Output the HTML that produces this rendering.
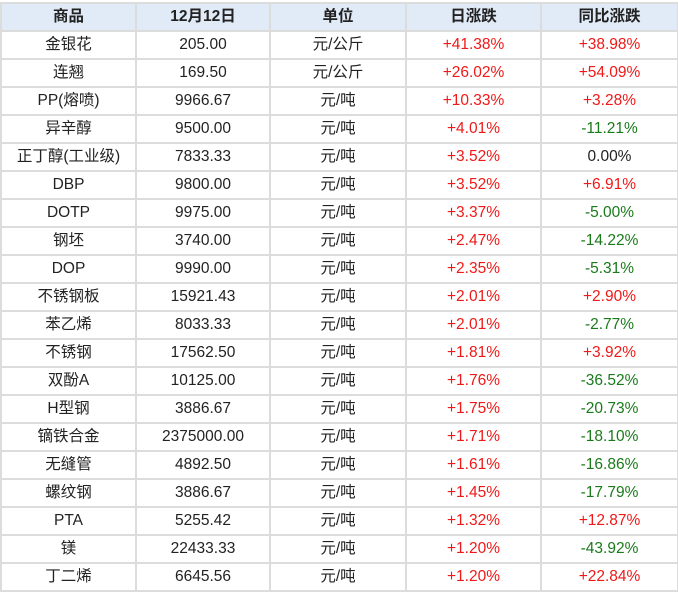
<!DOCTYPE html>
<html><head><meta charset="utf-8"><style>
html,body{margin:0;padding:0;background:#fff;width:678px;height:595px;overflow:hidden}
table{position:absolute;left:0;top:2px;border-collapse:collapse;table-layout:fixed;width:677px;font-family:"Liberation Sans","Noto Sans CJK SC",sans-serif;font-size:15.5px;color:#222}
td,th{border:2px solid #dcdcdc;height:26px;padding:0;text-align:center;line-height:26px;white-space:nowrap}
th{background:#e1eaf7;font-weight:bold;color:#222}
.r{color:#f01818}.g{color:#1a7a1a}
</style></head><body>
<table>
<colgroup><col style="width:135px"><col style="width:134px"><col style="width:136px"><col style="width:135px"><col style="width:137px"></colgroup>
<tr><th>商品</th><th>12月12日</th><th>单位</th><th>日涨跌</th><th>同比涨跌</th></tr>
<tr><td>金银花</td><td>205.00</td><td>元/公斤</td><td class="r">+41.38%</td><td class="r">+38.98%</td></tr>
<tr><td>连翘</td><td>169.50</td><td>元/公斤</td><td class="r">+26.02%</td><td class="r">+54.09%</td></tr>
<tr><td>PP(熔喷)</td><td>9966.67</td><td>元/吨</td><td class="r">+10.33%</td><td class="r">+3.28%</td></tr>
<tr><td>异辛醇</td><td>9500.00</td><td>元/吨</td><td class="r">+4.01%</td><td class="g">-11.21%</td></tr>
<tr><td>正丁醇(工业级)</td><td>7833.33</td><td>元/吨</td><td class="r">+3.52%</td><td>0.00%</td></tr>
<tr><td>DBP</td><td>9800.00</td><td>元/吨</td><td class="r">+3.52%</td><td class="r">+6.91%</td></tr>
<tr><td>DOTP</td><td>9975.00</td><td>元/吨</td><td class="r">+3.37%</td><td class="g">-5.00%</td></tr>
<tr><td>钢坯</td><td>3740.00</td><td>元/吨</td><td class="r">+2.47%</td><td class="g">-14.22%</td></tr>
<tr><td>DOP</td><td>9990.00</td><td>元/吨</td><td class="r">+2.35%</td><td class="g">-5.31%</td></tr>
<tr><td>不锈钢板</td><td>15921.43</td><td>元/吨</td><td class="r">+2.01%</td><td class="r">+2.90%</td></tr>
<tr><td>苯乙烯</td><td>8033.33</td><td>元/吨</td><td class="r">+2.01%</td><td class="g">-2.77%</td></tr>
<tr><td>不锈钢</td><td>17562.50</td><td>元/吨</td><td class="r">+1.81%</td><td class="r">+3.92%</td></tr>
<tr><td>双酚A</td><td>10125.00</td><td>元/吨</td><td class="r">+1.76%</td><td class="g">-36.52%</td></tr>
<tr><td>H型钢</td><td>3886.67</td><td>元/吨</td><td class="r">+1.75%</td><td class="g">-20.73%</td></tr>
<tr><td>镝铁合金</td><td>2375000.00</td><td>元/吨</td><td class="r">+1.71%</td><td class="g">-18.10%</td></tr>
<tr><td>无缝管</td><td>4892.50</td><td>元/吨</td><td class="r">+1.61%</td><td class="g">-16.86%</td></tr>
<tr><td>螺纹钢</td><td>3886.67</td><td>元/吨</td><td class="r">+1.45%</td><td class="g">-17.79%</td></tr>
<tr><td>PTA</td><td>5255.42</td><td>元/吨</td><td class="r">+1.32%</td><td class="r">+12.87%</td></tr>
<tr><td>镁</td><td>22433.33</td><td>元/吨</td><td class="r">+1.20%</td><td class="g">-43.92%</td></tr>
<tr><td>丁二烯</td><td>6645.56</td><td>元/吨</td><td class="r">+1.20%</td><td class="r">+22.84%</td></tr>
</table>
</body></html>
